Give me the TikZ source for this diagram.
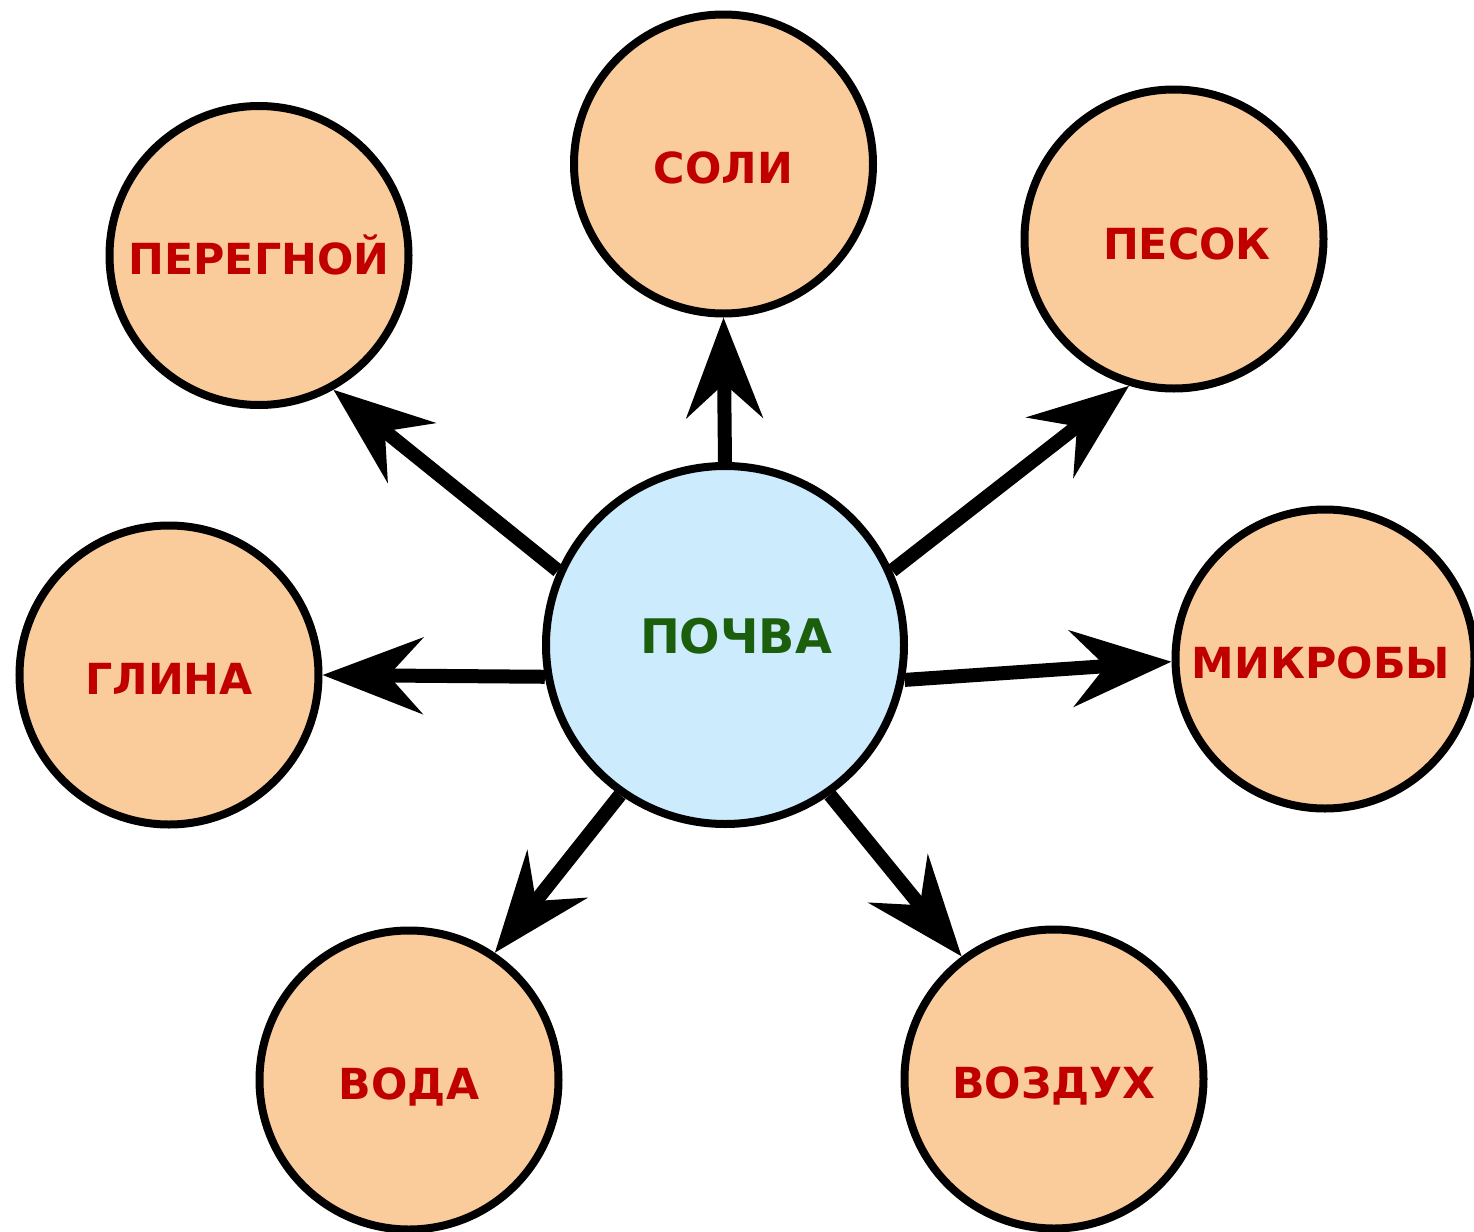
\documentclass[tikz,border=0pt]{standalone}
\usepackage{fontspec}
\setmainfont{DejaVu Sans}
\usepackage{tikz}
\usetikzlibrary{arrows.meta}
\definecolor{peach}{HTML}{FACB9B}
\definecolor{skyfill}{HTML}{CCEBFD}
\definecolor{wordred}{HTML}{C00000}
\definecolor{soilgreen}{HTML}{1B5E0C}

\begin{document}
\begin{tikzpicture}[x=0.5pt,y=-0.5pt,
    hub/.style={circle,draw,line width=4pt,fill=skyfill,minimum size=179pt,inner sep=0pt},
    part/.style={circle,draw,line width=4pt,fill=peach,minimum size=149.5pt,inner sep=0pt},
    hubword/.style={font=\bfseries\fontsize{23.8}{28}\selectfont,text=soilgreen,text height=17.4pt,text depth=0pt,inner sep=0pt},
    partword/.style={font=\bfseries\fontsize{21.4}{26}\selectfont,text=wordred,text height=15.6pt,text depth=0pt,inner sep=0pt},
    feed/.style={line width=7pt,-{Stealth[length=50pt,width=38pt,inset=17pt]}}]
    \useasboundingbox (0,0) rectangle (1474,1232);

    \path
    (725,645) node[hub,label={[hubword,xshift=5.5pt,yshift=4.5pt]center:ПОЧВА}] (soil) {}
    (723.5,164) node[part,label={[partword,yshift=-2pt]center:СОЛИ}] (salts) {}
    (259,255.5) node[part,label={[partword,yshift=-1.5pt]center:ПЕРЕГНОЙ}] (humus) {}
    (1174,239) node[part,label={[partword,xshift=6.5pt,yshift=-2.5pt]center:ПЕСОК}] (sand) {}
    (169,675) node[part,label={[partword,yshift=-2pt]center:ГЛИНА}] (clay) {}
    (1325,659) node[part,label={[partword,xshift=-2pt,yshift=-2pt]center:МИКРОБЫ}] (microbes) {}
    (409,1080) node[part,label={[partword,yshift=-2pt]center:ВОДА}] (water) {}
    (1054,1079) node[part,label={[partword,yshift=-2pt]center:ВОЗДУХ}] (air) {}
    ;

    \draw[feed] (soil.90) -- (salts.-90);
    \draw[feed] (soil.156) -- (humus.-61);
    \draw[feed] (soil.24) -- (sand.-107);
    \draw[feed] (soil.190) -- (clay.0);
    \draw[feed] (soil.-11) -- (microbes.181.5);
    \draw[feed] (soil.235.5) -- (water.56);
    \draw[feed] (soil.-55) -- (air.127);
\end{tikzpicture}
\end{document}
